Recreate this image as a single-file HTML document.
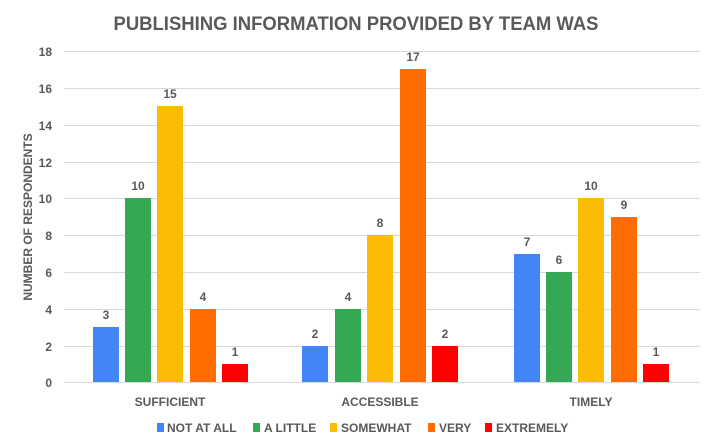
<!DOCTYPE html>
<html><head><meta charset="utf-8"><style>body{margin:0;background:#fff}svg{display:block;font-family:"Liberation Sans",sans-serif;font-weight:bold;fill:#595959}</style></head>
<body>
<svg width="712" height="448" xmlns="http://www.w3.org/2000/svg">
<text x="356" y="30" text-anchor="middle" font-size="19" textLength="485" lengthAdjust="spacingAndGlyphs" fill="#595959">PUBLISHING INFORMATION PROVIDED BY TEAM WAS</text>
<g stroke="#d9d9d9" stroke-width="1">
<line x1="64" x2="700" y1="51.5" y2="51.5"/><line x1="64" x2="700" y1="88.5" y2="88.5"/><line x1="64" x2="700" y1="125.5" y2="125.5"/><line x1="64" x2="700" y1="162.5" y2="162.5"/><line x1="64" x2="700" y1="198.5" y2="198.5"/><line x1="64" x2="700" y1="235.5" y2="235.5"/><line x1="64" x2="700" y1="272.5" y2="272.5"/><line x1="64" x2="700" y1="309.5" y2="309.5"/><line x1="64" x2="700" y1="346.5" y2="346.5"/><line x1="64" x2="700" y1="382.5" y2="382.5"/>
</g>
<g font-size="12" text-anchor="end">
<text x="52" y="56">18</text><text x="52" y="93">16</text><text x="52" y="130">14</text><text x="52" y="167">12</text><text x="52" y="203">10</text><text x="52" y="240">8</text><text x="52" y="277">6</text><text x="52" y="314">4</text><text x="52" y="351">2</text><text x="52" y="387">0</text>
</g>
<text transform="translate(32,217) rotate(-90)" text-anchor="middle" font-size="12">NUMBER OF RESPONDENTS</text>
<g>
<rect x="93" y="327" width="26" height="55" fill="#4285F4"/>
<rect x="125" y="198" width="26" height="184" fill="#34A853"/>
<rect x="157" y="106" width="26" height="276" fill="#FBBC04"/>
<rect x="190" y="309" width="26" height="73" fill="#FF6D01"/>
<rect x="222" y="364" width="26" height="18" fill="#FF0000"/>
<rect x="302" y="346" width="26" height="36" fill="#4285F4"/>
<rect x="335" y="309" width="26" height="73" fill="#34A853"/>
<rect x="367" y="235" width="26" height="147" fill="#FBBC04"/>
<rect x="400" y="69" width="26" height="313" fill="#FF6D01"/>
<rect x="432" y="346" width="26" height="36" fill="#FF0000"/>
<rect x="514" y="254" width="26" height="128" fill="#4285F4"/>
<rect x="546" y="272" width="26" height="110" fill="#34A853"/>
<rect x="578" y="198" width="26" height="184" fill="#FBBC04"/>
<rect x="611" y="217" width="26" height="165" fill="#FF6D01"/>
<rect x="643" y="364" width="26" height="18" fill="#FF0000"/>
</g>
<g font-size="12" text-anchor="middle">
<text x="106" y="319">3</text><text x="138" y="190">10</text><text x="170" y="98">15</text><text x="203" y="301">4</text><text x="235" y="356">1</text>
<text x="315" y="338">2</text><text x="348" y="301">4</text><text x="380" y="227">8</text><text x="413" y="61">17</text><text x="445" y="338">2</text>
<text x="527" y="246">7</text><text x="559" y="264">6</text><text x="591" y="190">10</text><text x="624" y="209">9</text><text x="656" y="356">1</text>
</g>
<g font-size="12" text-anchor="middle">
<text x="170" y="406">SUFFICIENT</text><text x="380" y="406">ACCESSIBLE</text><text x="591" y="406">TIMELY</text>
</g>
<g font-size="12">
<rect x="157" y="423" width="7" height="9" fill="#4285F4"/><text x="167" y="432">NOT AT ALL</text>
<rect x="253" y="423" width="7" height="9" fill="#34A853"/><text x="264" y="432">A LITTLE</text>
<rect x="330" y="423" width="7" height="9" fill="#FBBC04"/><text x="341" y="432">SOMEWHAT</text>
<rect x="428" y="423" width="7" height="9" fill="#FF6D01"/><text x="439" y="432">VERY</text>
<rect x="485" y="423" width="7" height="9" fill="#FF0000"/><text x="496" y="432">EXTREMELY</text>
</g>
</svg>
</body></html>
